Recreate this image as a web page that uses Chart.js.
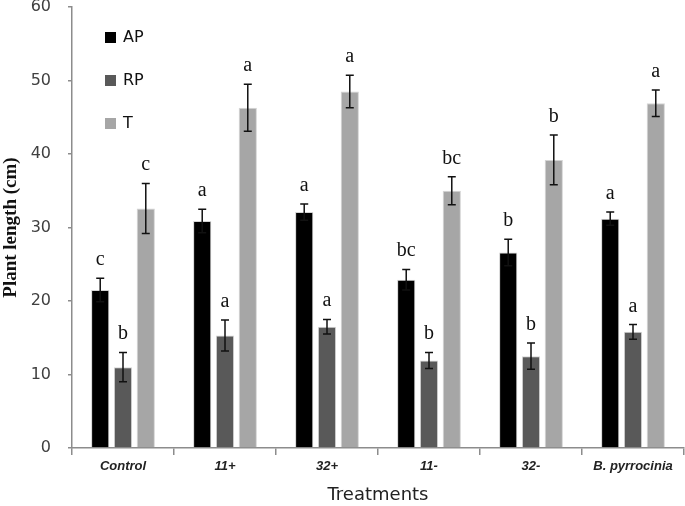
<!DOCTYPE html>
<html>
<head>
<meta charset="utf-8">
<script src="https://cdn.jsdelivr.net/npm/chart.js@4/dist/chart.umd.min.js"></script>
<style>
  html, body { margin: 0; padding: 0; background: #fff; }
  #wrap { width: 685px; height: 506px; }
</style>
</head>
<body>
<div id="wrap"><canvas id="chart"></canvas></div>
<script>
const treatments = ["Control", "11+", "32+", "11-", "32-", "B. pyrrocinia"]

const apValues = [21.5, 30.9, 32.1, 22.9, 26.6, 31.2]
const rpValues = [11.0, 15.3, 16.5, 11.9, 12.5, 15.8]
const tValues = [32.6, 46.3, 48.5, 35.0, 39.2, 46.9]

const apErrors = [1.6, 1.6, 1.1, 1.4, 1.8, 0.9]
const rpErrors = [2.0, 2.1, 1.0, 1.1, 1.8, 1.0]
const tErrors = [3.4, 3.2, 2.2, 1.9, 3.4, 1.8]

const apLetters = ["c", "a", "a", "bc", "b", "a"]
const rpLetters = ["b", "a", "a", "b", "b", "a"]
const tLetters = ["c", "a", "a", "bc", "b", "a"]

const yTicks = [0, 10, 20, 30, 40, 50, 60]

const axisGray = "#8c8c8c"

// error bars + significance letters, drawn on top of the bars
const errorBarPlugin = {
  id: "errorBars",
  afterDatasetsDraw(chart) {
    const ctx = chart.ctx
    const y = chart.scales.y
    chart.data.datasets.forEach((ds, i) => {
      const meta = chart.getDatasetMeta(i)
      meta.data.forEach((bar, j) => {
        const v = ds.data[j]
        const e = ds.errors[j]
        const top = y.getPixelForValue(v + e)
        const bot = y.getPixelForValue(v - e)
        ctx.save()
        ctx.strokeStyle = "#111"
        ctx.lineWidth = 1.5
        ctx.beginPath()
        ctx.moveTo(bar.x, top); ctx.lineTo(bar.x, bot)
        ctx.moveTo(bar.x - 4, top); ctx.lineTo(bar.x + 4, top)
        ctx.moveTo(bar.x - 4, bot); ctx.lineTo(bar.x + 4, bot)
        ctx.stroke()
        ctx.fillStyle = "#111"
        ctx.font = "20px 'Liberation Serif', serif"
        ctx.textAlign = "center"
        ctx.textBaseline = "alphabetic"
        ctx.fillText(ds.letters[j], bar.x, top - 13)
        ctx.restore()
      })
    })
  }
}

// legend sits inside the plot, top left
const innerLegend = {
  id: "innerLegend",
  afterDraw(chart) {
    const ctx = chart.ctx
    const x0 = chart.chartArea.left + 33
    let y0 = 32
    ctx.save()
    chart.data.datasets.forEach(ds => {
      ctx.fillStyle = ds.backgroundColor
      ctx.fillRect(x0, y0, 11, 11)
      ctx.fillStyle = "#111"
      ctx.font = "16px 'DejaVu Sans', sans-serif"
      ctx.textAlign = "left"
      ctx.textBaseline = "middle"
      ctx.fillText(ds.label, x0 + 18, y0 + 6)
      y0 += 43
    })
    ctx.restore()
  }
}

new Chart(document.getElementById("chart"), {
  type: "bar",
  data: {
    labels: treatments,
    datasets: [
      { label: "AP", data: apValues, errors: apErrors, letters: apLetters, backgroundColor: "#000000" },
      { label: "RP", data: rpValues, errors: rpErrors, letters: rpLetters, backgroundColor: "#595959" },
      { label: "T", data: tValues, errors: tErrors, letters: tLetters, backgroundColor: "#a6a6a6" }
    ]
  },
  options: {
    responsive: true,
    maintainAspectRatio: false,
    animation: false,
    categoryPercentage: 0.67,
    barPercentage: 0.8,
    datasets: { bar: { borderWidth: 1, borderColor: "#d4d4d4" } },
    layout: { padding: { top: 7, right: 1, left: 0, bottom: 0 } },
    plugins: {
      legend: { display: false },
      tooltip: { enabled: false }
    },
    scales: {
      x: {
        offset: true,
        grid: { display: true, offset: true, drawOnChartArea: false, color: axisGray, tickLength: 7, lineWidth: 1.5 },
        border: { color: axisGray, width: 1.5 },
        ticks: {
          color: "#222",
          font: { family: "'Liberation Sans', sans-serif", size: 13, style: "italic", weight: "bold" },
          padding: 4,
          maxRotation: 0
        },
        title: {
          display: true,
          text: "Treatments",
          color: "#222",
          font: { family: "'DejaVu Sans', sans-serif", size: 18 },
          padding: { top: 2, bottom: 0 }
        },
        afterFit(scale) { scale.height = 58 }
      },
      y: {
        min: 0,
        max: 60,
        afterBuildTicks(scale) { scale.ticks = yTicks.map(v => ({ value: v })) },
        grid: { display: true, drawOnChartArea: false, color: axisGray, tickLength: 4, lineWidth: 1.5 },
        border: { color: axisGray, width: 1.5 },
        ticks: {
          color: "#404040",
          font: { family: "'DejaVu Sans', sans-serif", size: 16 },
          padding: 17
        },
        title: {
          display: true,
          text: "Plant length (cm)",
          color: "#111",
          font: { family: "'Liberation Serif', serif", size: 19, weight: "bold" },
          padding: { top: 0, bottom: 0 }
        },
        afterFit(scale) {
          scale.width = 72
          scale.paddingTop = 0
        }
      }
    }
  },
  plugins: [errorBarPlugin, innerLegend]
})
</script>
</body>
</html>
